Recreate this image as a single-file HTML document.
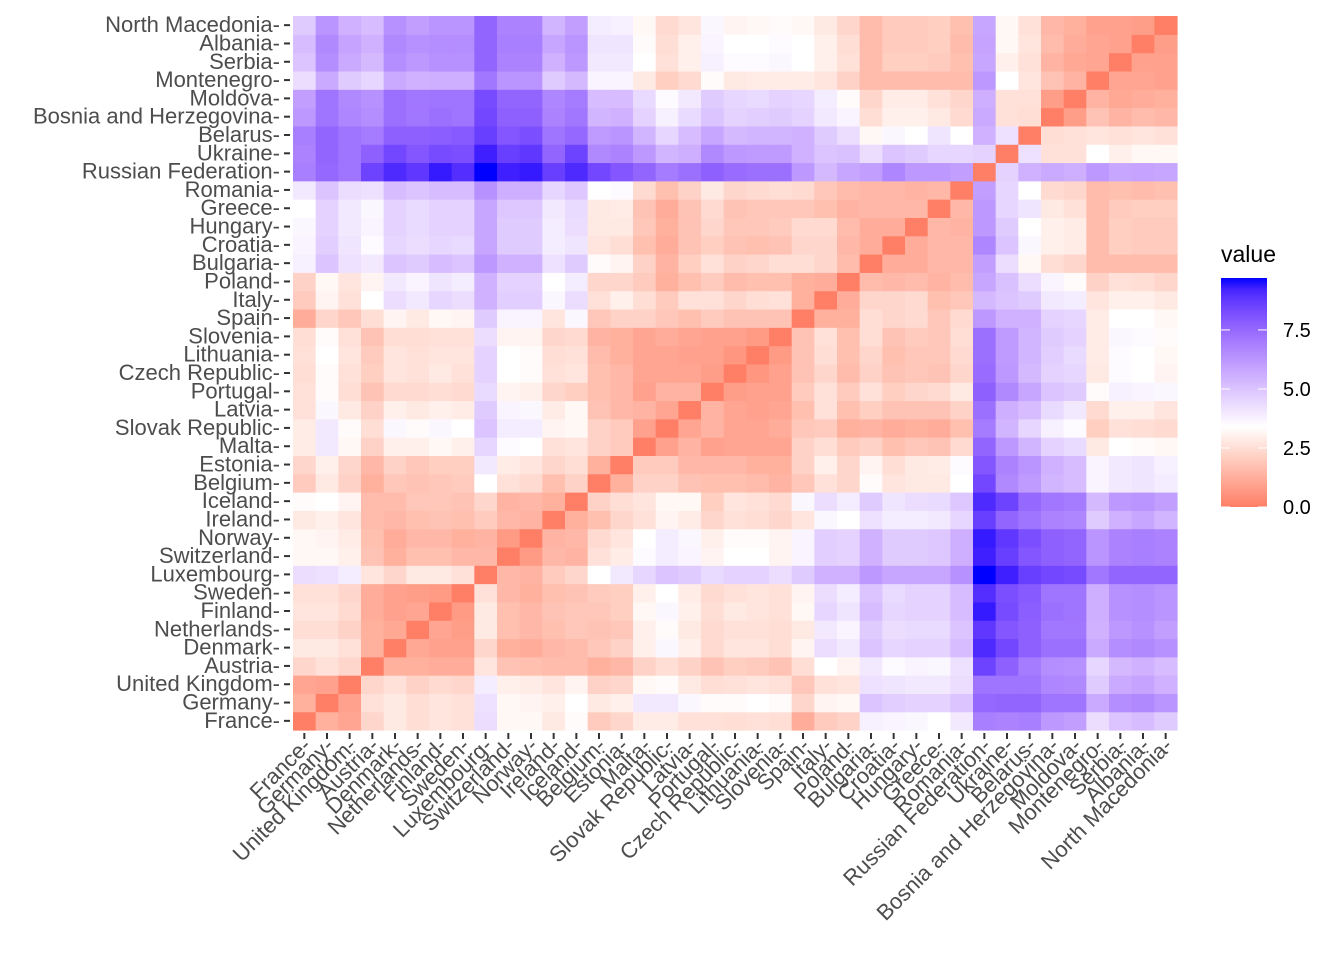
<!DOCTYPE html>
<html><head><meta charset="utf-8"><title>Heatmap</title>
<style>
html,body{margin:0;padding:0;background:#fff;}
svg{display:block;font-family:"Liberation Sans",Arial,sans-serif;}
</style></head>
<body>
<svg id="chart" width="1344" height="960" viewBox="0 0 1344 960" xmlns="http://www.w3.org/2000/svg">
<rect width="1344" height="960" fill="#fff"/>
<g id="cells"></g>
<g id="yaxis"></g>
<g id="xaxis"></g>
<g id="legend">
  <text x="1221" y="262" font-size="23" fill="#000">value</text>
  <defs><linearGradient id="lg" x1="0" y1="1" x2="0" y2="0"></linearGradient></defs>
  <rect x="1221" y="278" width="46" height="229" fill="url(#lg)"/>
</g>
</svg>
<script>
const countries = ["France","Germany","United Kingdom","Austria","Denmark","Netherlands","Finland","Sweden","Luxembourg","Switzerland","Norway","Ireland","Iceland","Belgium","Estonia","Malta","Slovak Republic","Latvia","Portugal","Czech Republic","Lithuania","Slovenia","Spain","Italy","Poland","Bulgaria","Croatia","Hungary","Greece","Romania","Russian Federation","Ukraine","Belarus","Bosnia and Herzegovina","Moldova","Montenegro","Serbia","Albania","North Macedonia"];
// lower triangle values: row k gives values against countries 0..k-1
const lowerRows = [
[],
[1.3],
[1.0,0.9],
[2.3,2.6,2.3],
[2.8,2.8,2.6,1.3],
[2.5,2.5,2.2,1.3,1.1],
[2.7,2.7,2.4,1.2,0.9,1.0],
[2.6,2.6,2.3,1.2,0.9,0.8,0.7],
[4.3,4.2,3.9,2.7,2.3,2.8,2.8,2.6],
[3.2,3.2,3.0,1.8,1.3,1.7,1.7,1.5,1.5],
[3.2,3.1,2.9,1.7,1.2,1.5,1.5,1.3,1.4,0.7],
[2.8,3.0,2.7,1.6,1.5,1.7,1.8,1.7,2.0,1.5,1.4],
[3.3,3.4,3.1,1.6,1.6,1.9,1.9,1.8,2.3,1.4,1.5,1.3],
[2.0,2.8,2.2,1.3,1.9,1.8,1.9,2.0,3.4,2.6,2.4,1.7,2.2],
[2.3,3.0,2.3,1.5,2.2,1.9,2.1,2.1,4.0,2.9,2.7,2.3,2.5,1.3],
[2.9,4.0,3.2,2.2,3.0,3.0,3.2,3.0,4.5,3.5,3.4,2.6,2.7,2.2,2.0],
[2.9,4.0,3.3,2.5,3.6,3.3,3.6,3.4,5.0,3.9,3.9,3.1,3.2,2.2,2.0,0.9],
[2.6,3.6,2.8,2.2,3.0,2.8,3.0,2.9,4.8,3.7,3.6,2.9,3.2,1.8,1.5,1.4,1.0],
[2.6,3.3,2.5,1.8,2.4,2.4,2.5,2.4,4.4,3.1,3.0,2.3,2.1,1.7,1.5,0.9,1.4,1.4],
[2.5,3.3,2.6,2.1,2.7,2.6,2.8,2.6,4.6,3.4,3.3,2.6,2.7,1.7,1.5,1.0,1.0,1.0,0.8],
[2.6,3.4,2.7,2.0,2.7,2.6,2.7,2.7,4.6,3.4,3.3,2.5,2.6,1.6,1.3,1.0,1.0,0.9,0.9,0.6],
[2.5,3.3,2.6,1.8,2.5,2.5,2.6,2.6,4.3,3.1,3.1,2.3,2.4,1.4,1.3,1.0,1.2,1.0,0.9,0.9,0.7],
[1.2,2.3,1.9,2.5,3.1,2.8,3.2,3.1,4.8,3.7,3.7,2.7,3.6,1.9,2.2,2.2,1.9,1.7,2.0,1.8,1.8,1.8],
[2.0,3.1,2.6,3.4,4.3,4.0,4.5,4.3,5.5,4.7,4.7,3.6,4.3,2.6,3.0,2.5,2.0,2.6,2.6,2.3,2.5,2.6,1.3],
[2.2,3.2,2.7,3.1,4.0,3.7,4.1,3.9,5.5,4.6,4.6,3.4,3.9,2.3,2.3,2.0,1.3,1.7,2.0,1.6,1.7,1.7,1.3,1.2],
[3.8,5.0,4.2,4.0,5.0,4.8,5.2,5.0,6.2,5.5,5.5,4.2,4.8,3.3,3.1,2.2,1.4,2.1,2.6,2.2,2.3,2.5,2.5,2.3,1.6],
[3.7,4.7,4.1,3.5,4.5,4.3,4.5,4.4,5.8,4.8,4.8,3.9,4.1,2.7,2.5,1.7,1.2,1.8,2.1,1.8,1.7,1.8,2.3,2.3,1.5,1.2],
[3.6,4.6,4.0,3.7,4.6,4.4,4.6,4.6,5.8,4.8,4.8,3.9,4.3,2.8,2.8,1.9,1.3,1.8,2.3,1.9,1.9,2.0,2.4,2.4,1.6,1.2,1.2],
[3.4,4.6,4.0,3.6,4.6,4.4,4.6,4.6,5.8,4.9,4.9,4.0,4.4,2.8,2.9,1.8,1.2,1.8,2.4,1.8,1.9,1.9,1.9,1.7,1.4,1.5,1.5,1.5],
[4.0,5.0,4.3,4.2,5.2,5.0,5.2,5.2,6.4,5.6,5.6,4.5,4.9,3.4,3.5,2.4,1.7,2.2,2.8,2.3,2.4,2.5,2.4,1.9,1.6,1.5,1.5,1.4,1.5],
[6.9,7.5,7.2,8.5,9.1,8.8,9.4,9.0,9.7,9.3,9.4,8.6,9.1,8.4,8.0,7.6,7.0,7.3,7.7,7.4,7.3,7.3,6.2,5.3,5.8,6.0,6.7,6.2,6.2,6.0],
[6.8,7.6,7.2,7.7,8.4,8.0,8.3,8.2,9.3,8.6,8.8,7.6,8.5,6.6,6.8,6.2,5.4,5.6,6.6,6.2,6.1,6.1,5.5,5.0,5.1,4.3,5.0,4.8,4.5,4.5,4.6],
[6.9,7.6,7.2,7.0,7.7,7.7,7.8,7.9,8.6,8.0,8.2,7.2,7.5,6.1,6.3,5.4,4.5,5.2,5.8,5.3,5.4,5.4,5.5,4.8,4.3,3.2,3.6,3.4,4.1,3.4,5.5,4.2],
[6.2,7.2,6.7,6.5,7.3,7.1,7.3,7.2,8.4,7.7,7.7,6.8,7.1,5.4,5.5,4.6,3.8,4.4,5.0,4.6,4.7,4.8,4.6,4.0,3.7,2.5,3.0,3.0,2.8,2.4,5.7,2.6,2.5],
[6.0,7.2,6.6,6.4,7.3,7.1,7.2,7.2,8.3,7.6,7.6,6.7,7.0,5.2,5.2,4.4,3.5,4.0,4.8,4.5,4.4,4.6,4.5,3.9,3.3,2.3,2.9,2.9,2.6,2.3,5.6,2.6,2.6,0.8],
[4.3,5.7,4.8,4.5,5.7,5.5,5.6,5.6,7.1,6.3,6.3,4.8,5.3,3.7,3.7,2.8,2.1,2.4,3.3,2.8,2.9,2.9,2.9,2.7,2.2,1.6,1.6,1.6,1.6,1.6,6.2,3.4,2.7,1.8,1.4],
[5.0,6.5,5.7,5.3,6.5,6.2,6.4,6.4,7.6,6.8,6.8,5.5,6.2,4.0,4.0,3.4,2.6,3.0,3.8,3.5,3.5,3.6,3.4,3.0,2.6,1.6,2.1,2.1,2.0,1.7,5.8,3.0,2.6,1.4,1.1,1.0],
[5.2,6.6,5.9,5.5,6.6,6.4,6.5,6.5,7.6,6.9,6.9,5.8,6.3,4.1,4.1,3.3,2.5,3.0,3.7,3.4,3.4,3.5,3.4,3.0,2.5,1.6,2.0,2.0,2.1,1.6,5.9,3.2,2.7,1.6,1.2,1.0,0.9],
[4.8,6.3,5.5,5.2,6.4,6.0,6.3,6.3,7.6,6.8,6.8,5.4,6.0,3.9,3.8,3.2,2.4,2.7,3.6,3.1,3.2,3.3,3.2,2.8,2.3,1.6,2.0,2.0,2.1,1.7,5.8,3.2,2.6,1.5,1.3,0.9,0.9,0.8]
];
const legendTicks = [0, 2.5, 5, 7.5];
const legendLabels = ["0.0","2.5","5.0","7.5"];
const scaleMin = 0, scaleMid = 3.4, scaleMax = 9.7;

const NS = "http://www.w3.org/2000/svg";
const n = countries.length;
const X0 = 293, X1 = 1177, Y0 = 16, Y1 = 730;
const cw = (X1 - X0) / n, ch = (Y1 - Y0) / n;
const xPos = i => X0 + i * cw;
const yPos = i => Y1 - (i + 1) * ch;

function val(r, c) {
  if (r === c) return 0;
  return r > c ? lowerRows[r][c] : lowerRows[c][r];
}
function toLin(c){c/=255;return c<=0.04045?c/12.92:Math.pow((c+0.055)/1.055,2.4);}
function fromLin(c){c=c<=0.0031308?12.92*c:1.055*Math.pow(c,1/2.4)-0.055;return Math.max(0,Math.min(255,Math.round(c*255)));}
function rgb2lab(r,g,b){r=toLin(r);g=toLin(g);b=toLin(b);
  let x=(r*0.4124+g*0.3576+b*0.1805)/0.95047,y=(r*0.2126+g*0.7152+b*0.0722),z=(r*0.0193+g*0.1192+b*0.9505)/1.08883;
  const f=t=>t>0.008856?Math.cbrt(t):7.787*t+16/116;
  x=f(x);y=f(y);z=f(z);return [116*y-16,500*(x-y),200*(y-z)];}
function lab2rgb(L,a,bb){let y=(L+16)/116,x=a/500+y,z=y-bb/200;
  const fi=t=>t*t*t>0.008856?t*t*t:(t-16/116)/7.787;
  x=fi(x)*0.95047;y=fi(y);z=fi(z)*1.08883;
  const r=x*3.2406+y*-1.5372+z*-0.4986,g=x*-0.9689+y*1.8758+z*0.0415,b=x*0.0557+y*-0.2040+z*1.0570;
  return "rgb("+fromLin(r)+","+fromLin(g)+","+fromLin(b)+")";}
const LOW=rgb2lab(255,126,102), MID=rgb2lab(255,255,255), HIGH=rgb2lab(0,0,255);
function color(v){
  let a,b,t;
  if(v<=scaleMid){a=LOW;b=MID;t=(v-scaleMin)/(scaleMid-scaleMin);}
  else {a=MID;b=HIGH;t=(v-scaleMid)/(scaleMax-scaleMid);}
  t=Math.max(0,Math.min(1,t));
  return lab2rgb(a[0]+(b[0]-a[0])*t,a[1]+(b[1]-a[1])*t,a[2]+(b[2]-a[2])*t);
}

const cells = document.getElementById("cells");
for (let r = 0; r < n; r++) {
  for (let c = 0; c < n; c++) {
    const rect = document.createElementNS(NS, "rect");
    rect.setAttribute("x", xPos(c).toFixed(2));
    rect.setAttribute("y", yPos(r).toFixed(2));
    rect.setAttribute("width", (cw + 0.6).toFixed(2));
    rect.setAttribute("height", (ch + 0.6).toFixed(2));
    rect.setAttribute("fill", color(val(r, c)));
    
    
    cells.appendChild(rect);
  }
}

const yaxis = document.getElementById("yaxis");
const xaxis = document.getElementById("xaxis");
for (let i = 0; i < n; i++) {
  const cy = yPos(i) + ch / 2;
  const t = document.createElementNS(NS, "text");
  t.setAttribute("x", 280); t.setAttribute("y", cy + 7);
  t.setAttribute("text-anchor", "end"); t.setAttribute("font-size", "22"); t.setAttribute("fill", "#4d4d4d");
  t.textContent = countries[i] + "-";
  
  
  yaxis.appendChild(t);
  const tk = document.createElementNS(NS, "line");
  tk.setAttribute("x1", 284); tk.setAttribute("x2", 290); tk.setAttribute("y1", cy); tk.setAttribute("y2", cy);
  tk.setAttribute("stroke", "#333"); tk.setAttribute("stroke-width", "2");
  
  
  yaxis.appendChild(tk);

  const cx = xPos(i) + cw / 2;
  const xl = document.createElementNS(NS, "text");
  xl.setAttribute("text-anchor", "end"); xl.setAttribute("font-size", "22"); xl.setAttribute("fill", "#4d4d4d");
  xl.setAttribute("transform", "translate(" + (cx + 8) + ",747) rotate(-45)");
  xl.textContent = countries[i] + "-";
  
  
  xaxis.appendChild(xl);
  const xt = document.createElementNS(NS, "line");
  xt.setAttribute("x1", cx); xt.setAttribute("x2", cx); xt.setAttribute("y1", 733); xt.setAttribute("y2", 739);
  xt.setAttribute("stroke", "#333"); xt.setAttribute("stroke-width", "2");
  
  
  xaxis.appendChild(xt);
}

const lg = document.getElementById("lg");
for (let k = 0; k <= 20; k++) {
  const v = scaleMin + (scaleMax - scaleMin) * k / 20;
  const s = document.createElementNS(NS, "stop");
  s.setAttribute("offset", (k / 20).toFixed(3));
  s.setAttribute("stop-color", color(v));
  lg.appendChild(s);
}
const legend = document.getElementById("legend");
const LB = 507, LT = 278;
const ly = v => LB - (v - scaleMin) / (scaleMax - scaleMin) * (LB - LT);
legendTicks.forEach((v, i) => {
  const y = ly(v);
  [[1221, 1230], [1258, 1267]].forEach(([a, b]) => {
    const l = document.createElementNS(NS, "line");
    l.setAttribute("x1", a); l.setAttribute("x2", b); l.setAttribute("y1", y); l.setAttribute("y2", y);
    l.setAttribute("stroke", "#fff"); l.setAttribute("stroke-width", "1");
    
    
    legend.appendChild(l);
  });
  const t = document.createElementNS(NS, "text");
  t.setAttribute("x", 1283); t.setAttribute("y", y + 7);
  t.setAttribute("font-size", "20"); t.setAttribute("fill", "#000");
  t.textContent = legendLabels[i];
  
  
  legend.appendChild(t);
});
</script>
</body></html>
